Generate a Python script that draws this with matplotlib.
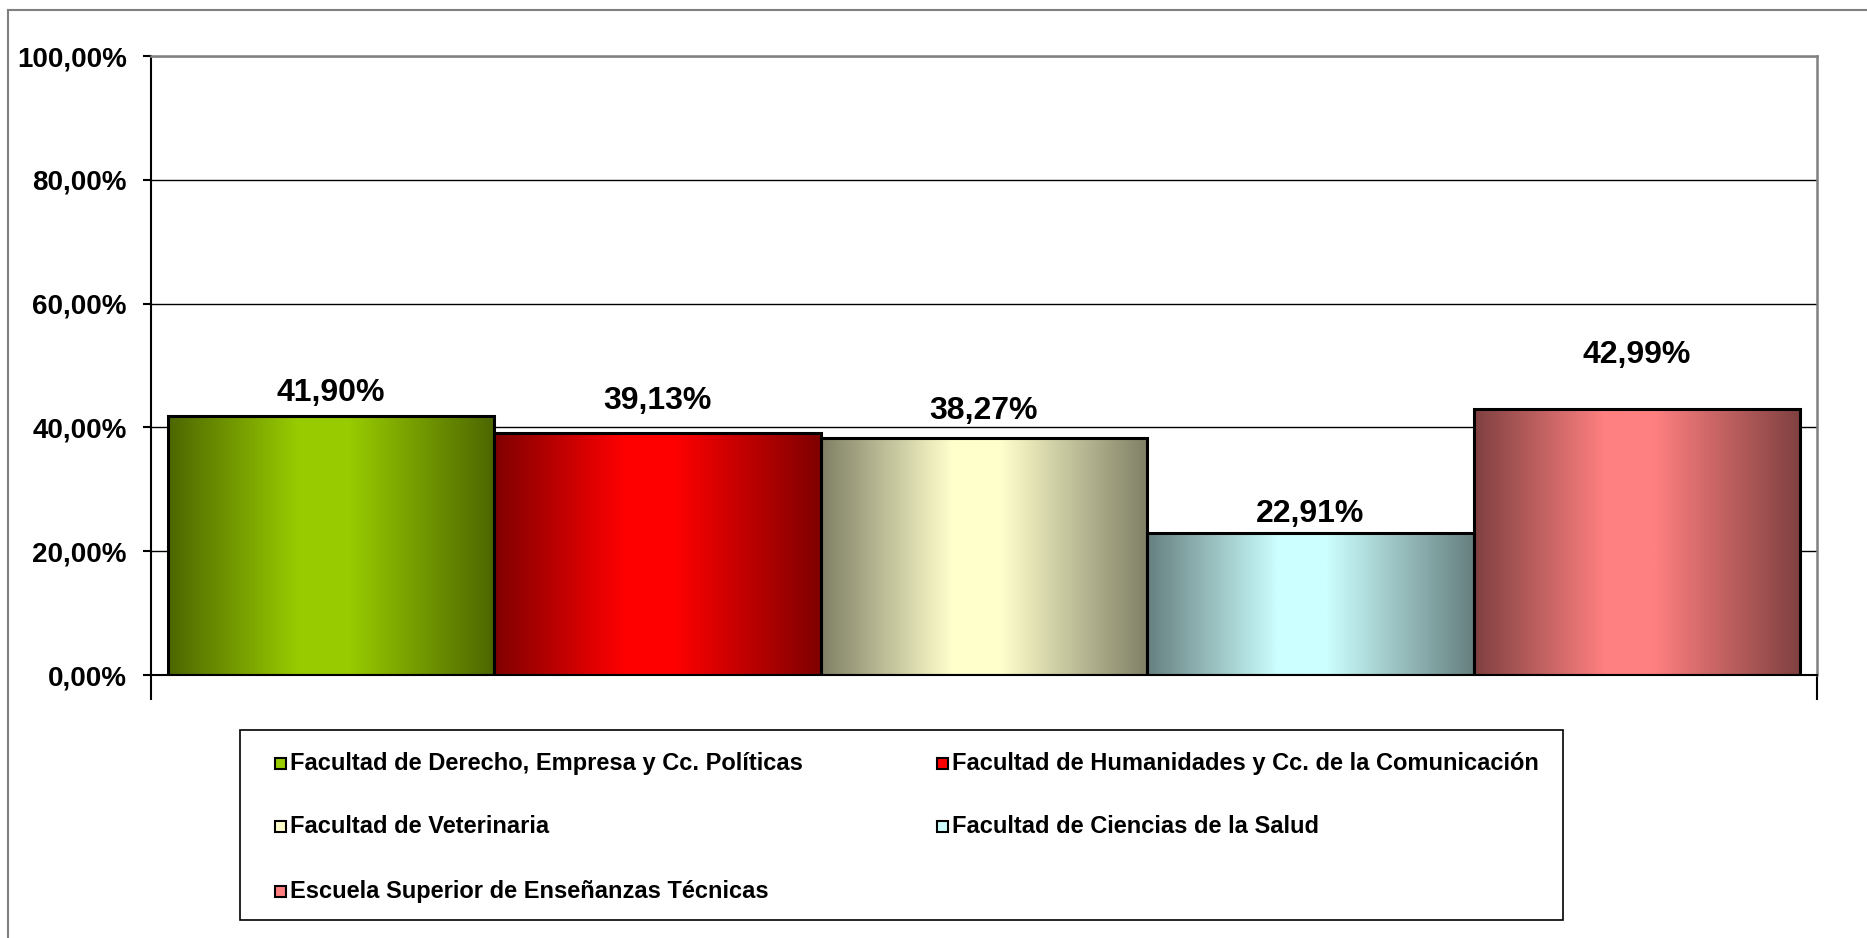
import numpy as np
import matplotlib
matplotlib.use("Agg")
import matplotlib.pyplot as plt
from matplotlib.patches import Rectangle
from matplotlib.lines import Line2D
from matplotlib.colors import to_rgb
from matplotlib.ticker import FuncFormatter

categories = [
    "Facultad de Derecho, Empresa y Cc. Políticas",
    "Facultad de Humanidades y Cc. de la Comunicación",
    "Facultad de Veterinaria",
    "Facultad de Ciencias de la Salud",
    "Escuela Superior de Enseñanzas Técnicas",
]
values = [41.90, 39.13, 38.27, 22.91, 42.99]
y_ticks = [0, 20, 40, 60, 80, 100]

colors = ["#99CC00", "#FF0000", "#FFFFCC", "#CCFFFF", "#FF8080"]
label_offsets = [16, 23, 19.5, 14, 39]  # points above bar top

plt.rcParams["font.family"] = ["Liberation Sans", "DejaVu Sans"]

W, H = 1867, 938
fig = plt.figure(figsize=(W / 100, H / 100), dpi=100)
fig.patch.set_facecolor("white")

# outer chart border (only left and top visible)
fig.add_artist(Line2D([8 / W, 8 / W], [0, 1 - 10 / H], color="#808080", lw=1.5))
fig.add_artist(Line2D([8 / W, 1], [1 - 10 / H, 1 - 10 / H], color="#808080", lw=1.5))

left, right, top, bottom = 151, 1817, 56, 675
ax = fig.add_axes([left / W, 1 - bottom / H, (right - left) / W, (bottom - top) / H])

n = len(values)
width = 0.196
xs = 0.5 + (np.arange(n) - (n - 1) / 2) * width

t = np.linspace(0, 1, 300)
prof = np.interp(t, [0, 0.4, 0.55, 1], [0, 1, 1, 0])

bars = ax.bar(xs, values, width=width, color="none", edgecolor="black", linewidth=2.2, zorder=3)
for bar, c, v in zip(bars, colors, values):
    light = np.array(to_rgb(c))
    dark = light * 0.5
    img = dark[None, None, :] + (light - dark)[None, None, :] * prof[None, :, None]
    x0 = bar.get_x()
    im = ax.imshow(img, extent=(x0, x0 + bar.get_width(), 0, v), aspect="auto",
                   zorder=2, interpolation="bilinear")
    im.set_clip_path(bar)

for x, v, off in zip(xs, values, label_offsets):
    ax.annotate(f"{v:.2f}%".replace(".", ","), (x, v), xytext=(0, off),
                textcoords="offset points", ha="center", va="center",
                fontsize=23, fontweight="bold")

ax.set_xlim(0, 1)
ax.set_ylim(0, 100)
ax.set_yticks(y_ticks)
ax.yaxis.set_major_formatter(FuncFormatter(lambda v, p: f"{v:.2f}%".replace(".", ",")))
ax.set_xticks([0, 1])
ax.set_xticklabels([])
ax.tick_params(axis="x", length=18, width=1.5, direction="out")
ax.tick_params(axis="y", length=6, width=1.5, direction="out", pad=11.5, labelsize=20)
for lab in ax.get_yticklabels():
    lab.set_fontweight("bold")
ax.yaxis.grid(True, color="black", lw=1)
ax.set_axisbelow(True)
for s in ["left", "bottom"]:
    ax.spines[s].set_color("black")
    ax.spines[s].set_linewidth(1.5)
for s in ["top", "right"]:
    ax.spines[s].set_color("#808080")
    ax.spines[s].set_linewidth(1.8)

# legend box
lx0, lx1, ly0, ly1 = 240, 1563, 730, 920
fig.add_artist(Rectangle((lx0 / W, 1 - ly1 / H), (lx1 - lx0) / W, (ly1 - ly0) / H,
                         facecolor="white", edgecolor="black", lw=1.2))
rows_y = [763, 826, 891]
col_x = [280, 942]
ms = 11
for i, (name, c) in enumerate(zip(categories, colors)):
    cx = col_x[i % 2]
    cy = rows_y[i // 2]
    fig.add_artist(Rectangle(((cx - ms / 2) / W, 1 - (cy + ms / 2) / H), ms / W, ms / H,
                             facecolor=c, edgecolor="black", lw=1.5))
    fig.text((cx + 10) / W, 1 - cy / H, name, ha="left", va="center",
             fontsize=17, fontweight="bold")

fig.savefig("out.png", dpi=100)
